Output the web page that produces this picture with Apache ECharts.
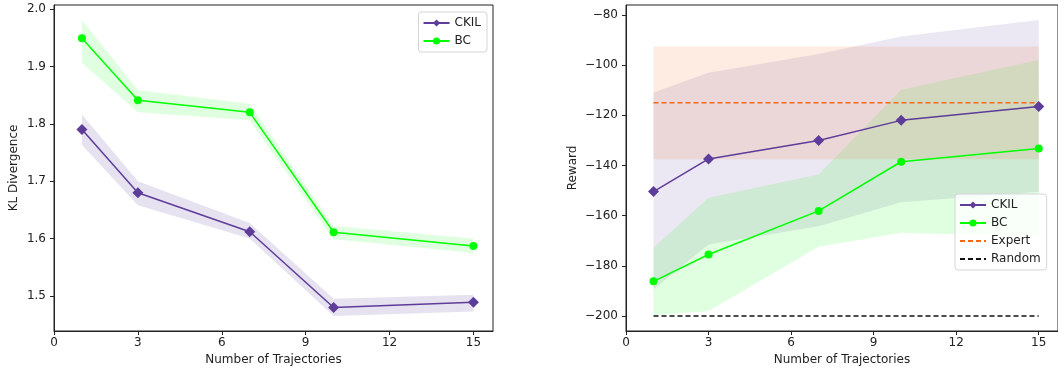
<!DOCTYPE html>
<html>
<head>
<meta charset="utf-8">
<script src="https://cdn.jsdelivr.net/npm/echarts@6/dist/echarts.min.js"></script>
<style>
  html, body { margin: 0; padding: 0; background: #fff; }
  #chart { width: 1058px; height: 371px; }
</style>
</head>
<body>
<div id="chart"></div>
<script>
// number of trajectories
const trajectories = [1, 3, 7, 10, 15];
const xTicks = [0, 3, 6, 9, 12, 15];

// KL divergence (left panel)
const klCkil = [1.79, 1.68, 1.612, 1.48, 1.489];
const klCkilUpper = [1.816, 1.70, 1.627, 1.495, 1.502];
const klCkilLower = [1.763, 1.658, 1.600, 1.465, 1.473];
const klBc = [1.949, 1.841, 1.82, 1.611, 1.587];
const klBcUpper = [1.981, 1.859, 1.835, 1.622, 1.600];
const klBcLower = [1.906, 1.820, 1.806, 1.599, 1.575];
const klTicks = [1.5, 1.6, 1.7, 1.8, 1.9, 2.0];

// reward (right panel)
const rwCkil = [-150.4, -137.4, -130.0, -122.0, -116.5];
const rwCkilUpper = [-110.9, -103.0, -95.5, -88.6, -82.0];
const rwCkilLower = [-189.4, -171.5, -164.2, -154.7, -150.5];
const rwBc = [-186.2, -175.5, -158.1, -138.5, -133.2];
const rwBcUpper = [-172.8, -152.9, -143.6, -109.8, -97.9];
const rwBcLower = [-199.7, -198.0, -172.4, -166.8, -168.2];
const expertMean = -115;
const expertUpper = -92.5;
const expertLower = -137.5;
const randomMean = -200;
const rwTicks = [-200, -180, -160, -140, -120, -100, -80];

const C_CKIL = '#5e3c99';
const C_BC = '#00ff00';
const C_EXPERT = '#f4661b';
const FONT = 'DejaVu Sans';
const FS = 12;

let chart = echarts.init(document.getElementById('chart'));

function pairs(xs, ys) {
    return xs.map(function (x, i) { return [x, ys[i]]; });
}

// translucent band between lower and upper, drawn as one polygon
function band(name, xi, yi, upper, lower, color) {
    return {
        name: name + ' band',
        type: 'custom',
        xAxisIndex: xi,
        yAxisIndex: yi,
        silent: true,
        data: [0],
        renderItem: function (params, api) {
            let pts = [];
            for (let i = 0; i < trajectories.length; i++) {
                pts.push(api.coord([trajectories[i], upper[i]]));
            }
            for (let i = trajectories.length - 1; i >= 0; i--) {
                pts.push(api.coord([trajectories[i], lower[i]]));
            }
            return {
                type: 'polygon',
                shape: { points: pts },
                style: { fill: color, stroke: null }
            };
        },
        z: 1
    };
}

function xAxis(gi) {
    return {
        type: 'value',
        gridIndex: gi,
        min: 0,
        max: 15.7,
        name: 'Number of Trajectories',
        nameLocation: 'middle',
        nameGap: 23,
        nameTextStyle: { fontFamily: FONT, fontSize: FS, color: '#222' },
        axisLine: { show: true, lineStyle: { color: '#222', width: 1 } },
        axisTick: { show: true, inside: false, length: 4, customValues: xTicks, lineStyle: { color: '#222' } },
        axisLabel: { customValues: xTicks, fontFamily: FONT, fontSize: FS, color: '#222', margin: 6 },
        splitLine: { show: false }
    };
}

function yAxis(gi, min, max, ticks, name, fmt, gap) {
    return {
        type: 'value',
        gridIndex: gi,
        min: min,
        max: max,
        name: name,
        nameLocation: 'middle',
        nameGap: gap,
        nameRotate: 90,
        nameTextStyle: { fontFamily: FONT, fontSize: FS, color: '#222' },
        axisLine: { show: true, lineStyle: { color: '#222', width: 1 } },
        axisTick: { show: true, inside: false, length: 4, customValues: ticks, lineStyle: { color: '#222' } },
        axisLabel: { customValues: ticks, formatter: fmt, fontFamily: FONT, fontSize: FS, color: '#222', margin: 8 },
        splitLine: { show: false }
    };
}

function lineSeries(name, xi, yi, ys, color, symbol, size) {
    return {
        name: name,
        type: 'line',
        xAxisIndex: xi,
        yAxisIndex: yi,
        data: pairs(trajectories, ys),
        symbol: symbol,
        symbolSize: size,
        showAllSymbol: true,
        lineStyle: { color: color, width: 1.5 },
        itemStyle: { color: color },
        z: 3
    };
}

function hLine(name, y, color) {
    return {
        name: name,
        type: 'line',
        xAxisIndex: 1,
        yAxisIndex: 1,
        data: [[trajectories[0], y], [trajectories[trajectories.length - 1], y]],
        symbol: 'none',
        lineStyle: { color: color, width: 1.5, type: [5, 3] },
        itemStyle: { color: color },
        z: 2
    };
}

let legendBase = {
    orient: 'vertical',
    backgroundColor: 'rgba(255,255,255,0.8)',
    borderColor: '#d5d5d5',
    borderWidth: 1,
    borderRadius: 3,
    padding: [5, 6, 5, 4],
    itemGap: 6,
    itemWidth: 26,
    itemHeight: 9,
    textStyle: { fontFamily: FONT, fontSize: FS, color: '#222' }
};

option = {
    backgroundColor: '#fff',
    animation: false,
    grid: [
        { left: 54, top: 5, right: 565, bottom: 39, show: true, borderColor: '#222', borderWidth: 1, backgroundColor: 'transparent' },
        { left: 626, top: 5, right: -7, bottom: 39, show: true, borderColor: '#222', borderWidth: 1, backgroundColor: 'transparent' }
    ],
    legend: [
        Object.assign({}, legendBase, { data: ['CKIL', 'BC'], right: 571, top: 12 }),
        Object.assign({}, legendBase, {
            data: ['CKIL', 'BC',
                { name: 'Expert', itemStyle: { opacity: 0 } },
                { name: 'Random', itemStyle: { opacity: 0 } }],
            left: 955, top: 194
        })
    ],
    xAxis: [xAxis(0), xAxis(1)],
    yAxis: [
        yAxis(0, 1.439, 2.007, klTicks, 'KL Divergence', function (v) { return v.toFixed(1); }, 34),
        yAxis(1, -206, -76, rwTicks, 'Reward', function (v) { return v < 0 ? '\u2212' + Math.abs(v) : String(v); }, 47)
    ],
    series: [
        band('CKIL', 0, 0, klCkilUpper, klCkilLower, 'rgba(94,60,153,0.15)'),
        band('BC', 0, 0, klBcUpper, klBcLower, 'rgba(0,255,0,0.12)'),
        lineSeries('CKIL', 0, 0, klCkil, C_CKIL, 'diamond', 11),
        lineSeries('BC', 0, 0, klBc, C_BC, 'circle', 8),

        band('CKIL', 1, 1, rwCkilUpper, rwCkilLower, 'rgba(94,60,153,0.12)'),
        band('BC', 1, 1, rwBcUpper, rwBcLower, 'rgba(0,255,0,0.12)'),
        band('Expert', 1, 1, [expertUpper, expertUpper, expertUpper, expertUpper, expertUpper],
            [expertLower, expertLower, expertLower, expertLower, expertLower], 'rgba(244,102,27,0.12)'),
        lineSeries('CKIL', 1, 1, rwCkil, C_CKIL, 'diamond', 11),
        lineSeries('BC', 1, 1, rwBc, C_BC, 'circle', 8),
        hLine('Expert', expertMean, C_EXPERT),
        hLine('Random', randomMean, '#111')
    ]
};

chart.setOption(option);
</script>
</body>
</html>
